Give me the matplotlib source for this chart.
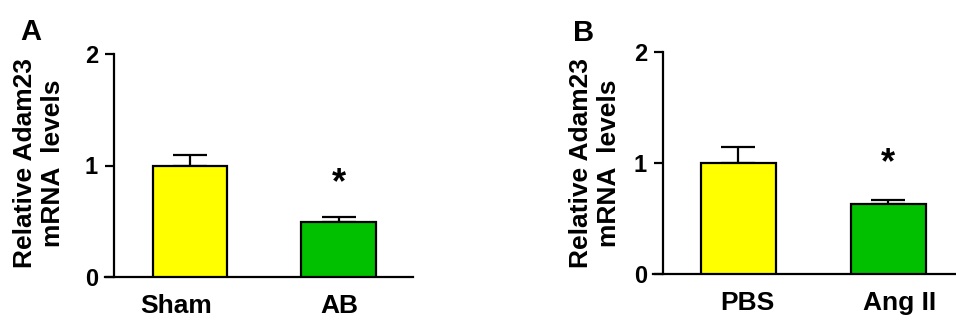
import matplotlib
matplotlib.use("Agg")
import matplotlib.pyplot as plt
from matplotlib.transforms import ScaledTranslation

plt.rcParams['font.family'] = ['Liberation Sans', 'DejaVu Sans']
plt.rcParams['font.weight'] = 'bold'

# Panel A
groups_a = ['Sham', 'AB']
means_a = [1.00, 0.49]
errs_a = [0.09, 0.05]

# Panel B
groups_b = ['PBS', 'Ang II']
means_b = [1.00, 0.63]
errs_b = [0.14, 0.04]

colors = ['#FFFF00', '#00C000']
yticks = [0, 1, 2]

W, H = 956, 323
fig = plt.figure(figsize=(W / 100, H / 100), dpi=100)


def px_axes(x0, x1, y_top, y_bottom):
    return fig.add_axes([x0 / W, 1 - y_bottom / H, (x1 - x0) / W, (y_bottom - y_top) / H])


def draw_panel(ax, groups, means, errs, xlim, spine_x, star_y, label_shift):
    x = range(len(groups))
    ax.bar(x, means, width=0.5, color=colors, edgecolor='black', linewidth=1.6, zorder=3)
    ax.errorbar(x, means, yerr=[[0] * len(errs), errs], fmt='none', ecolor='black',
                elinewidth=1.6, capsize=12, capthick=1.6, zorder=2)
    ax.text(1, star_y, '*', ha='center', va='center', fontsize=26, fontweight='bold')
    ax.set_xlim(*xlim)
    ax.set_ylim(0, 2)
    ax.spines['top'].set_visible(False)
    ax.spines['right'].set_visible(False)
    ax.spines['left'].set_position(('data', spine_x))
    ax.spines['left'].set_bounds(0, 2)
    for s in ('left', 'bottom'):
        ax.spines[s].set_linewidth(1.6)
    ax.set_yticks(yticks)
    ax.set_xticks(list(x))
    ax.set_xticklabels(groups, fontsize=19, fontweight='bold')
    ax.tick_params(axis='y', length=6.5, width=1.6, labelsize=17, pad=5)
    ax.tick_params(axis='x', length=0, pad=12)
    for lab, dx in zip(ax.get_xticklabels(), label_shift):
        lab.set_transform(lab.get_transform() + ScaledTranslation(dx / 100, 0, fig.dpi_scale_trans))
    ax.patch.set_visible(False)


ax_a = px_axes(105, 413, 54, 277)
draw_panel(ax_a, groups_a, means_a, errs_a, (-0.57, 1.5), -0.51, 0.84, (-14, 1))

ax_b = px_axes(653, 956, 52, 274)
draw_panel(ax_b, groups_b, means_b, errs_b, (-0.567, 1.45), -0.5, 0.99, (9, 11))

ylabel = 'Relative Adam23\nmRNA  levels'
fig.text(39 / W, 1 - 163 / H, ylabel, rotation=90, ha='center', va='center',
         fontsize=19, fontweight='bold', linespacing=1.2)
fig.text(595 / W, 1 - 163 / H, ylabel, rotation=90, ha='center', va='center',
         fontsize=19, fontweight='bold', linespacing=1.2)

fig.text(31 / W, 1 - 32 / H, 'A', ha='center', va='center', fontsize=21, fontweight='bold')
fig.text(584 / W, 1 - 33 / H, 'B', ha='center', va='center', fontsize=21, fontweight='bold')

fig.savefig('out.png', dpi=100)
